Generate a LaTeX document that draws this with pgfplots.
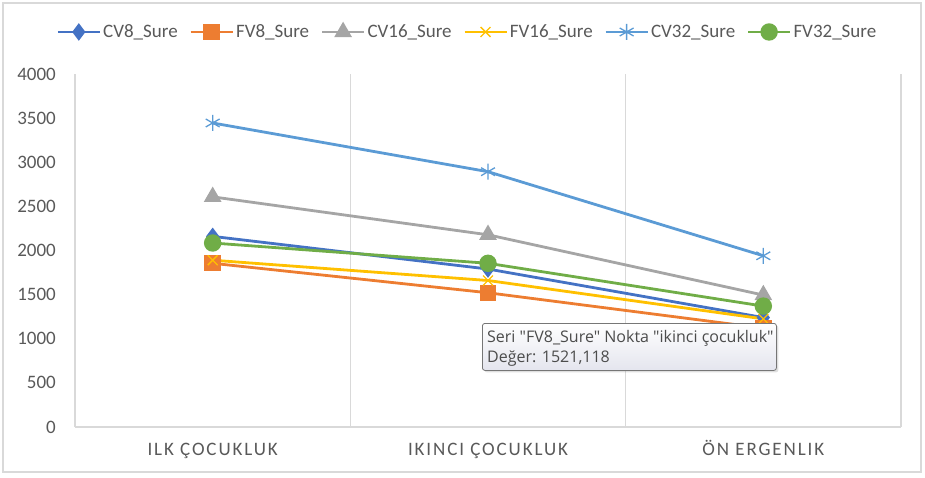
\documentclass[border=0pt]{standalone}
\usepackage{fontspec}
\setmainfont{Carlito}
\newfontfamily\tipfont{Open Sans}
\usepackage{pgfplots}
\pgfplotsset{compat=1.18}
\usetikzlibrary{shadows}

\definecolor{cvEight}{HTML}{4472C4}
\definecolor{fvEight}{HTML}{ED7D31}
\definecolor{cvSixteen}{HTML}{A5A5A5}
\definecolor{fvSixteen}{HTML}{FFC000}
\definecolor{cvThirtyTwo}{HTML}{5B9BD5}
\definecolor{fvThirtyTwo}{HTML}{70AD47}
\definecolor{txt}{HTML}{595959}
\definecolor{gridc}{HTML}{D9D9D9}
\definecolor{tipborder}{HTML}{767676}
\definecolor{tipbot}{HTML}{E4E5EE}
\definecolor{tiptext}{HTML}{4C4C4C}

\begin{document}
\begin{tikzpicture}[x=1pt,y=1pt]
\useasboundingbox (0,0) rectangle (925,477);
\draw[gridc, line width=1.2pt] (3,5) rectangle (921,474);
\begin{axis}[
    at={(75pt,50pt)}, anchor=south west,
    scale only axis, width=826pt, height=353pt,
    xmin=-0.5, xmax=2.5, ymin=0, ymax=4000,
    axis x line*=bottom, axis y line*=left,
    x axis line style={gridc, line width=1.2pt, -},
    y axis line style={draw=none},
    xtick={0,1,2},
    xticklabels={ILK ÇOCUKLUK, IKINCI ÇOCUKLUK, ÖN ERGENLIK},
    minor xtick={-0.5,0.5,1.5,2.5},
    xminorgrids, minor x grid style={gridc, line width=1.2pt},
    ytick={0,500,...,4000},
    major tick length=0pt, minor tick length=0pt,
    scaled y ticks=false,
    yticklabel style={/pgf/number format/1000 sep={}, /pgf/number format/assume math mode=true,
        font=\fontsize{19}{22}\selectfont, text=txt, anchor=east, inner sep=0pt, xshift=-19pt},
    xticklabel style={font=\fontsize{19}{22}\selectfont\addfontfeatures{LetterSpace=10},
        text=txt, anchor=base, inner sep=0pt, yshift=-28pt},
    legend style={at={(0.475,1.119)}, anchor=center, draw=none, fill=none,
        font=\fontsize{19}{22}\selectfont, text=txt, inner sep=0pt,
        /tikz/every even column/.append style={column sep=9.5pt}},
    legend columns=6,
    legend image code/.code={\draw[mark repeat=2,mark phase=2] plot coordinates {(0pt,0pt) (21pt,0pt) (42pt,0pt)};},
    every axis plot/.append style={line width=2.8pt},
]
% CV8_Sure
\addplot[cvEight, mark=diamond*, mark size=6.5pt, mark options={solid}]
  coordinates {(0,2160) (1,1790) (2,1240)};
\addlegendentry{CV8\_Sure}
% FV8_Sure
\addplot[fvEight, mark=square*, mark size=6.8pt, mark options={solid}]
  coordinates {(0,1855) (1,1521.118) (2,1120)};
\addlegendentry{FV8\_Sure}
% CV16_Sure
\addplot[cvSixteen, mark=triangle*, mark size=7.5pt, mark options={solid}]
  coordinates {(0,2608) (1,2178) (2,1495)};
\addlegendentry{CV16\_Sure}
% FV16_Sure
\addplot[fvSixteen, mark=x, mark size=7pt, mark options={solid, line width=1.3pt}]
  coordinates {(0,1890) (1,1660) (2,1225)};
\addlegendentry{FV16\_Sure}
% CV32_Sure
\addplot[cvThirtyTwo, mark=asterisk, mark size=8pt, mark options={solid, line width=1.3pt}]
  coordinates {(0,3445) (1,2893) (2,1940)};
\addlegendentry{CV32\_Sure}
% FV32_Sure
\addplot[fvThirtyTwo, mark=*, mark size=7.3pt, mark options={solid}]
  coordinates {(0,2085) (1,1855) (2,1370)};
\addlegendentry{FV32\_Sure}
\end{axis}
% hover tooltip
\node[draw=tipborder, line width=0.8pt, rounded corners=2.5pt, top color=white, bottom color=tipbot,
      drop shadow={opacity=0.25, shadow xshift=2pt, shadow yshift=-2pt},
      anchor=north west, minimum width=294pt, minimum height=47pt, inner sep=0pt] at (482,154) {};
\node[anchor=base west, inner sep=0pt, font=\tipfont\fontsize{16}{19}\selectfont, text=tiptext]
  at (487,135) {Seri "FV8\_Sure" Nokta "ikinci çocukluk"};
\node[anchor=base west, inner sep=0pt, font=\tipfont\fontsize{16}{19}\selectfont, text=tiptext]
  at (487,115) {Değer: 1521,118};
\end{tikzpicture}
\end{document}
